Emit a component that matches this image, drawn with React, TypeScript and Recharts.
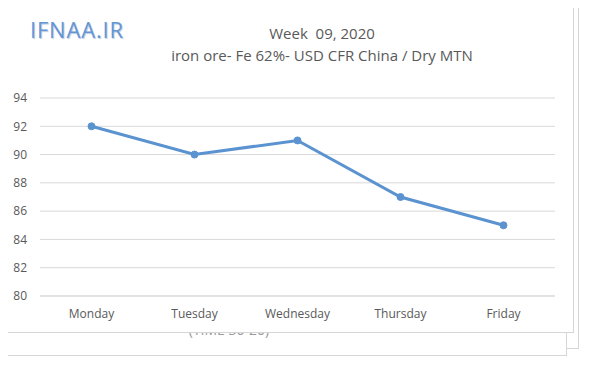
import { LineChart, Line, XAxis, YAxis, CartesianGrid } from 'recharts';

// Weekly iron ore price, Fe 62%, USD CFR China per dry metric tonne
const DAYS = ['Monday', 'Tuesday', 'Wednesday', 'Thursday', 'Friday'];
const PRICES = [92, 90, 91, 87, 85];
const Y_TICKS = [80, 82, 84, 86, 88, 90, 92, 94];

const TITLE = 'Week  09, 2020';
const SUBTITLE = 'iron ore- Fe 62%- USD CFR China / Dry MTN';
const LOGO = 'IFNAA.IR';
const HIDDEN_NOTE = '(TIME 30-20)';

const COLORS = {
  line: '#5b93d0',
  grid: '#d9d9d9',
  text: '#595959',
  frame: '#d6d6d6',
  logo: '#6596d4',
};

const FONT = '"Open Sans", "Liberation Sans", sans-serif';

const chartData = DAYS.map((day, i) => ({ day, price: PRICES[i] }));

export default function App() {
  return (
    <div
      style={{
        position: 'relative',
        width: 600,
        height: 368,
        margin: -8,
        background: '#fff',
        fontFamily: FONT,
        overflow: 'hidden',
      }}
    >
      {/* stacked frames behind the chart */}
      <div
        style={{
          position: 'absolute',
          left: 10,
          top: -2,
          width: 569,
          height: 351,
          border: `1px solid ${COLORS.frame}`,
          boxSizing: 'border-box',
        }}
      />
      <div
        style={{
          position: 'absolute',
          left: 1,
          top: 200,
          width: 566,
          height: 156,
          border: `1px solid ${COLORS.frame}`,
          boxSizing: 'border-box',
          background: '#fff',
        }}
      />
      {/* note on the frame behind, mostly covered by the chart frame */}
      <div
        style={{
          position: 'absolute',
          left: 150,
          top: 320,
          width: 158,
          textAlign: 'center',
          fontSize: 14,
          color: '#9a9a9a',
        }}
      >
        {HIDDEN_NOTE}
      </div>
      {/* main chart frame */}
      <div
        style={{
          position: 'absolute',
          left: 1,
          top: 1,
          width: 573,
          height: 332,
          border: `1px solid ${COLORS.frame}`,
          boxSizing: 'border-box',
          background: '#fff',
        }}
      />
      <div
        style={{
          position: 'absolute',
          left: 30,
          top: 14,
          fontSize: 22,
          fontWeight: 500,
          letterSpacing: 0.8,
          color: COLORS.logo,
          textShadow: '1px 1px 1px #b9c9e0',
          lineHeight: '30px',
        }}
      >
        {LOGO}
      </div>
      <div
        style={{
          position: 'absolute',
          left: 122,
          top: 22,
          width: 400,
          textAlign: 'center',
          fontSize: 15,
          color: COLORS.text,
          lineHeight: '22px',
          whiteSpace: 'pre',
        }}
      >
        {TITLE}
        {'\n'}
        {SUBTITLE}
      </div>
      <div style={{ position: 'absolute', left: 0, top: 0 }}>
        <LineChart
          width={573}
          height={332}
          data={chartData}
          margin={{ top: 98, right: 18, bottom: 0, left: 0 }}
        >
          <CartesianGrid stroke={COLORS.grid} vertical={false} />
          <XAxis
            dataKey="day"
            height={36}
            axisLine={{ stroke: COLORS.grid }}
            tickLine={false}
            tickMargin={7}
            padding={{ left: 51.5, right: 51.5 }}
            tick={{ fontSize: 12, fill: COLORS.text, fontFamily: FONT }}
          />
          <YAxis
            width={40}
            domain={[80, 94]}
            ticks={Y_TICKS}
            axisLine={false}
            tickLine={false}
            tickMargin={7}
            tick={{ fontSize: 12, fill: COLORS.text, fontFamily: FONT }}
          />
          <Line
            type="linear"
            dataKey="price"
            stroke={COLORS.line}
            strokeWidth={3}
            dot={{ r: 3.5, fill: COLORS.line, stroke: COLORS.line, strokeWidth: 1 }}
            isAnimationActive={false}
          />
        </LineChart>
      </div>
    </div>
  );
}
